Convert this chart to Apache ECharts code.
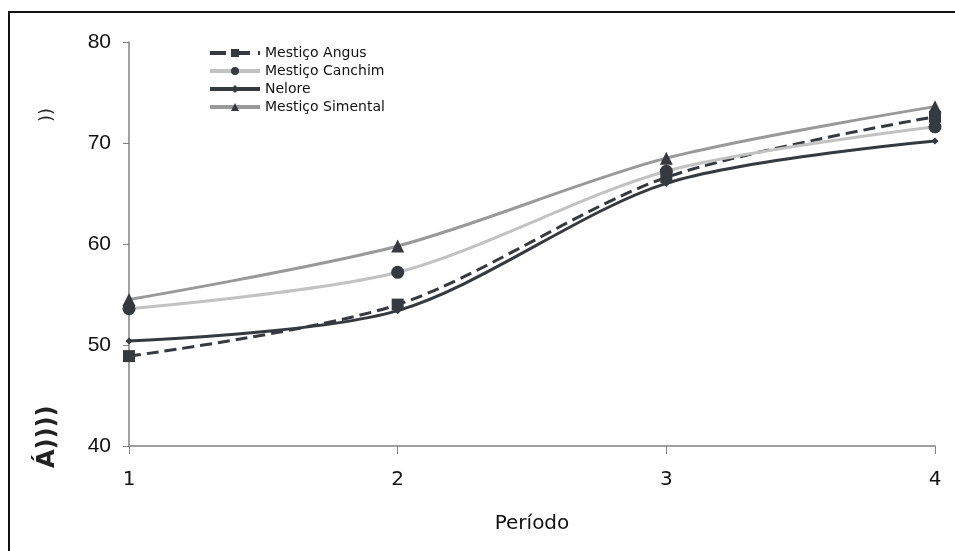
<!DOCTYPE html>
<html><head><meta charset="utf-8">
<script src="https://cdn.jsdelivr.net/npm/echarts@6/dist/echarts.min.js"></script>
<style>html,body{margin:0;padding:0;background:#fff}#c{width:955px;height:551px}</style>
</head><body><div id="c"></div>
<script>
const periods = ['1','2','3','4'];
const angus = [48.9, 54.0, 66.6, 72.6];
const canchim = [53.6, 57.2, 67.2, 71.6];
const nelore = [50.4, 53.4, 66.0, 70.2];
const simental = [54.5, 59.8, 68.5, 73.6];
const yTicks = [40, 50, 60, 70, 80];

const dark = '#343a40';
const chart = echarts.init(document.getElementById('c'));
function ser(name, data, lineColor, symbol, size, type) {
  return {
    name, type: 'line', data, smooth: 0.3,
    symbol, symbolSize: size,
    lineStyle: {color: lineColor, width: 3, type: type || 'solid'},
    itemStyle: {color: dark},
    emphasis: {disabled: true}
  };
}
chart.setOption({
  animation: false,
  backgroundColor: '#fff',
  grid: {left: 129, right: 20, top: 42, bottom: 105},
  legend: {
    orient: 'vertical', left: 203, top: 41, itemWidth: 50, itemHeight: 10, itemGap: 4,
    lineStyle: {width: 4},
    textStyle: {fontFamily: 'DejaVu Sans', fontSize: 14, color: '#111', lineHeight: 14},
    data: ['Mestiço Angus', 'Mestiço Canchim', 'Nelore', 'Mestiço Simental']
  },
  xAxis: {
    type: 'category', data: periods, boundaryGap: false,
    name: 'Período', nameLocation: 'middle', nameGap: 68,
    nameTextStyle: {fontFamily: 'DejaVu Sans', fontSize: 20, color: '#111'},
    axisLine: {lineStyle: {color: '#808080', width: 1.5}},
    axisTick: {show: true, length: 8, alignWithLabel: true, lineStyle: {color: '#808080'}},
    axisLabel: {fontFamily: 'DejaVu Sans', fontSize: 20, color: '#111', margin: 24},
    splitLine: {show: false}
  },
  yAxis: {
    type: 'value', min: yTicks[0], max: yTicks[yTicks.length-1], interval: 10,
    axisLine: {show: true, lineStyle: {color: '#808080', width: 1.5}},
    axisTick: {show: true, length: 6, lineStyle: {color: '#808080'}},
    axisLabel: {fontFamily: 'Liberation Sans', fontSize: 21, color: '#111', margin: 18},
    splitLine: {show: false}
  },
  graphic: [
    {type: 'rect', shape: {x: 9, y: 12, width: 960, height: 560}, style: {fill: 'none', stroke: '#111', lineWidth: 2}, silent: true},
    {type: 'text', x: 36, y: 468, rotation: Math.PI/2, style: {text: 'Á))))', font: 'bold 24px "DejaVu Sans"', fill: '#222'}},
    {type: 'text', x: 38, y: 122, rotation: Math.PI/2, style: {text: '))', font: '18px "DejaVu Sans"', fill: '#222'}}
  ],
  series: [
    ser('Mestiço Angus', angus, dark, 'rect', 12, 'dashed'),
    ser('Mestiço Canchim', canchim, '#c2c2c2', 'circle', 13),
    ser('Nelore', nelore, dark, 'diamond', 7),
    ser('Mestiço Simental', simental, '#999999', 'triangle', 13)
  ]
});
</script></body></html>
